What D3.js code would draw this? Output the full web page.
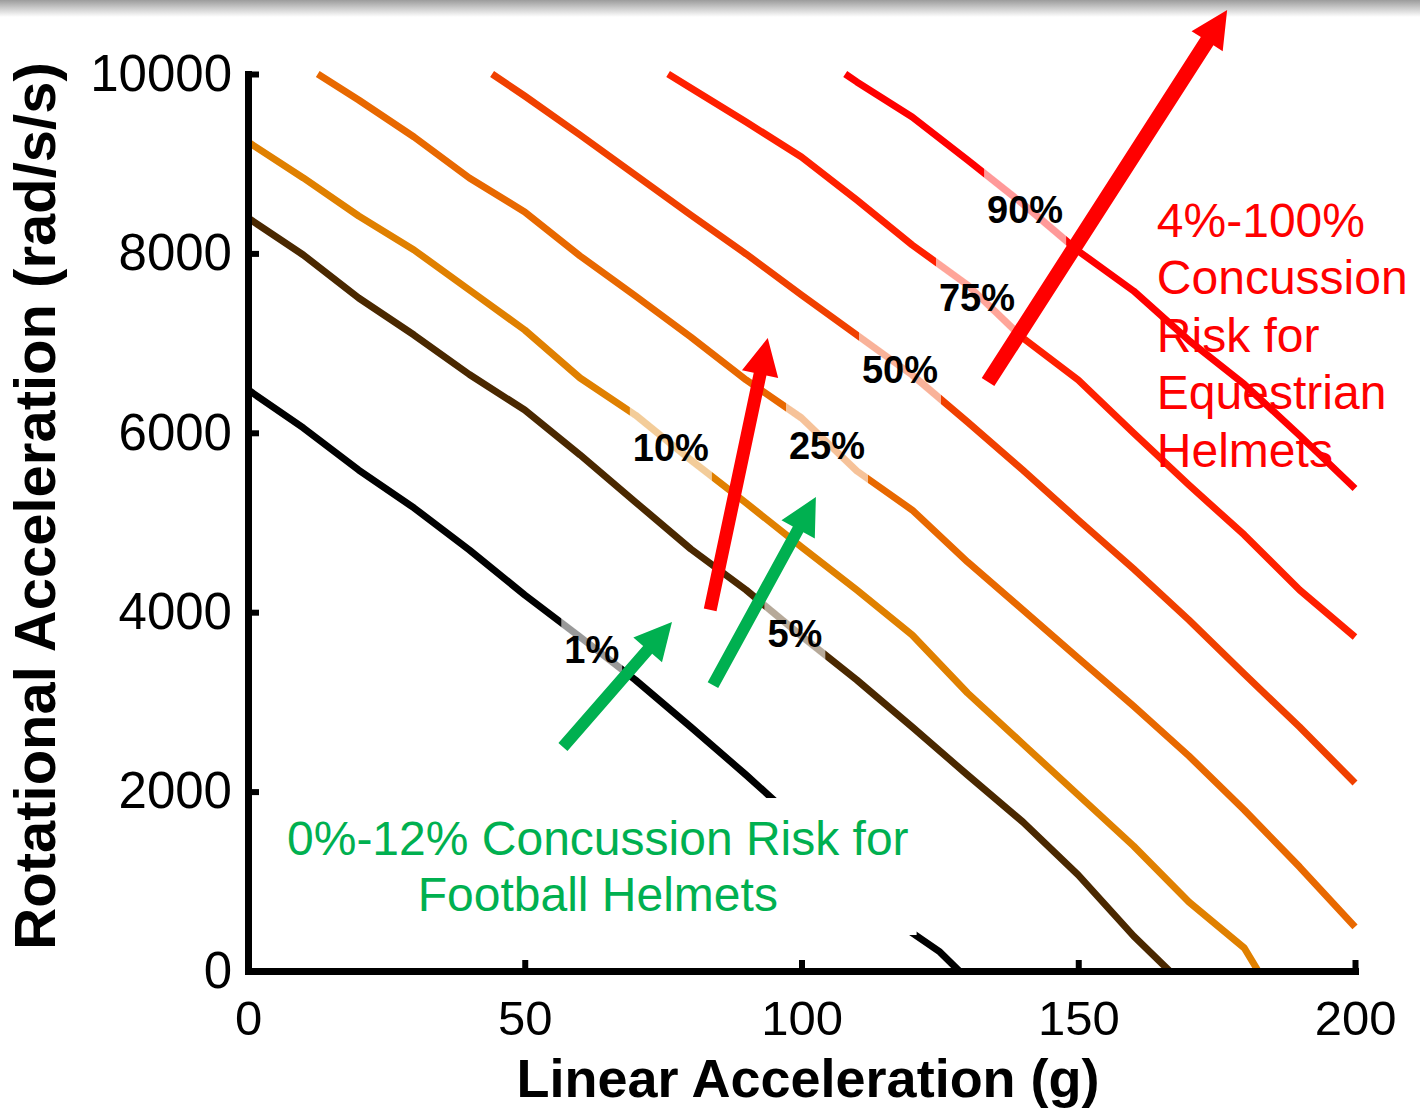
<!DOCTYPE html>
<html>
<head>
<meta charset="utf-8">
<script src="https://cdn.jsdelivr.net/npm/d3@7"></script>
<style>
  body { margin: 0; background: #fff; }
  svg { display: block; }
  text { font-family: "Liberation Sans", Arial, sans-serif; }
</style>
</head>
<body>
<svg id="chart" width="1420" height="1109"></svg>
<script>
// Iso-risk contours of concussion probability vs. linear and rotational acceleration
const xTicks = [0, 50, 100, 150, 200];
const yTicks = [0, 2000, 4000, 6000, 8000, 10000];
const riskLevels = ["1%", "5%", "10%", "25%", "50%", "75%", "90%"];
const levelColors = ["#000000", "#4a2800", "#e08000", "#e86800", "#f04000", "#ff2000", "#ff0000"];

// [linear acceleration (g), rotational acceleration (rad/s/s)]
const contour1 = [[0,6480],[10,6054],[20,5585],[30,5162],[40,4693],[50,4192],[60,3724],[70,3244],[80,2720],[90,2185],[95,1906],[100,1617],[110,1014],[120,424],[125,212],[128.5,0]];
const contour5 = [[0,8395],[10,7982],[20,7503],[30,7090],[40,6650],[50,6254],[60,5753],[70,5228],[80,4705],[90,4247],[100,3735],[110,3244],[120,2720],[130,2185],[140,1661],[150,1070],[160,390],[166.5,0]];
const contour10 = [[0,9242],[10,8841],[20,8417],[30,8038],[40,7592],[50,7146],[60,6611],[70,6198],[80,5697],[90,5217],[100,4727],[110,4247],[120,3746],[130,3099],[140,2531],[150,1962],[160,1394],[170,769],[180,256],[182.5,0]];
const contour25 = [[12.6,10000],[20,9710],[30,9298],[40,8841],[50,8462],[60,7971],[70,7525],[80,7068],[90,6589],[100,6165],[110,5574],[120,5139],[130,4560],[140,4025],[150,3489],[160,2954],[170,2397],[180,1795],[190,1159],[200,491]];
const contour50 = [[44.1,10000],[50,9755],[60,9320],[70,8874],[80,8428],[90,7993],[100,7536],[110,7090],[120,6644],[130,6120],[140,5585],[150,5028],[160,4482],[170,3913],[180,3311],[190,2720],[200,2096]];
const contour75 = [[75.9,10000],[80,9844],[90,9465],[100,9075],[110,8595],[120,8094],[130,7648],[140,7057],[150,6589],[160,5998],[170,5418],[180,4861],[190,4247],[200,3724]];
const contour90 = [[107.9,10000],[110,9911],[120,9521],[130,9041],[140,8551],[150,8027],[160,7581],[170,7030],[180,6540],[190,5970],[200,5380]];

// linear acceleration at which each contour carries its label
const labelAt = [62.1, 98.8, 76.4, 104.6, 117.8, 131.7, 140.4];

// annotation arrows: [tail, tip] in data units
const redArrows = [[[133.7, 6566], [176.9, 10713]], [[83.5, 4025], [93.9, 7057]]];
const greenArrows = [[[56.9, 2497], [76.6, 3891]], [[84.0, 3188], [102.6, 5284]]];

const footballNote = ["0%-12% Concussion Risk for", "Football Helmets"];
const footballNoteAt = [63.2, 1293];
const equestrianNote = ["4%-100%", "Concussion", "Risk for", "Equestrian", "Helmets"];
const equestrianNoteAt = [164.2, 8183];

const contours = [contour1, contour5, contour10, contour25, contour50, contour75, contour90];

const svg = d3.select("#chart");
const x = d3.scaleLinear([0, 200], [248, 1355]);
const y = d3.scaleLinear([0, 10000], [971, 74]);

// soft grey shade along the top edge
const defs = svg.append("defs");
const shade = defs.append("linearGradient").attr("id", "topShade")
  .attr("x1", 0).attr("y1", 0).attr("x2", 0).attr("y2", 1);
shade.append("stop").attr("offset", 0).attr("stop-color", "#9c9c9c");
shade.append("stop").attr("offset", 1).attr("stop-color", "#ffffff");
svg.append("rect").attr("x", 0).attr("y", 0).attr("width", 1420).attr("height", 17)
  .attr("fill", "url(#topShade)");

const line = d3.line().x(d => x(d[0])).y(d => y(d[1]));

// contour lines
const lineG = svg.append("g");
contours.forEach((c, i) => {
  lineG.append("path").attr("d", line(c))
    .attr("fill", "none").attr("stroke", levelColors[i])
    .attr("stroke-width", 7).attr("stroke-linejoin", "round");
});

// value at a given linear acceleration along a contour
function along(c, xv) {
  for (let k = 0; k < c.length - 1; k++) {
    const a = c[k], b = c[k + 1];
    if (xv >= a[0] && xv <= b[0]) {
      const t = (xv - a[0]) / (b[0] - a[0]);
      return a[1] + t * (b[1] - a[1]);
    }
  }
  return c[c.length - 1][1];
}

// contour labels with the line washed out beneath them
const labelG = svg.append("g");
contours.forEach((c, i) => {
  const cx = x(labelAt[i]);
  const cy = y(along(c, labelAt[i]));
  const t = labelG.append("text").attr("x", cx).attr("y", cy + 17)
    .attr("text-anchor", "middle").attr("font-size", 38).attr("font-weight", "bold")
    .attr("fill", "#000").text(riskLevels[i]);
  const w = t.node().getComputedTextLength() + 6;
  const clipId = "lblClip" + i;
  defs.append("clipPath").attr("id", clipId).append("rect")
    .attr("x", cx - w / 2).attr("y", 0).attr("width", w).attr("height", 1109);
  labelG.insert("path", "text").attr("d", line(c))
    .attr("fill", "none").attr("stroke", "#fff").attr("stroke-opacity", 0.6)
    .attr("stroke-width", 8).attr("clip-path", `url(#${clipId})`);
});

// axes
const yAxis = svg.append("g").attr("transform", `translate(${x(0)},0)`)
  .call(d3.axisLeft(y).tickValues(yTicks).tickFormat(d3.format("d"))
    .tickSizeInner(-11).tickSizeOuter(0).tickPadding(16));
const xAxis = svg.append("g").attr("transform", `translate(0,${y(0)})`)
  .call(d3.axisBottom(x).tickValues(xTicks).tickFormat(d3.format("d"))
    .tickSizeInner(-11).tickSizeOuter(0).tickPadding(29));
[yAxis, xAxis].forEach(g => {
  g.attr("font-family", null).attr("font-size", null);
  g.select(".domain").attr("stroke", "#000").attr("stroke-width", 7).attr("stroke-linecap", "square");
  g.selectAll(".tick line").attr("stroke", "#000").attr("stroke-width", 6);
  g.selectAll(".tick text").attr("font-size", 49).attr("fill", "#000");
});
yAxis.selectAll(".tick text").attr("font-size", 51);

// axis titles
svg.append("text").attr("x", 808).attr("y", 1097).attr("text-anchor", "middle")
  .attr("font-size", 54).attr("font-weight", "bold").attr("fill", "#000")
  .text("Linear Acceleration (g)");
svg.append("text").attr("transform", "translate(55,506) rotate(-90)").attr("text-anchor", "middle")
  .attr("font-size", 58).attr("font-weight", "bold").attr("fill", "#000")
  .text("Rotational Acceleration (rad/s/s)");

// football helmet note on a white panel
const footG = svg.append("g");
const footPanel = footG.append("rect").attr("fill", "#fff");
const footText = footG.append("text").attr("text-anchor", "middle")
  .attr("font-size", 48).attr("fill", "#00b050");
footballNote.forEach((s, k) => {
  footText.append("tspan").attr("x", x(footballNoteAt[0]))
    .attr("y", y(footballNoteAt[1]) + k * 56).text(s);
});
const fb = footText.node().getBBox();
footPanel.attr("x", fb.x - 8).attr("y", fb.y - 14).attr("width", fb.width + 16).attr("height", fb.height + 28);

// equestrian helmet note
const eqText = svg.append("text").attr("font-size", 48).attr("fill", "#ff0000");
equestrianNote.forEach((s, k) => {
  eqText.append("tspan").attr("x", x(equestrianNoteAt[0]))
    .attr("y", y(equestrianNoteAt[1]) + k * 57.5).text(s);
});

// block arrows
function arrowPath(tail, tip, shaftW, headLen, headW) {
  const x0 = x(tail[0]), y0 = y(tail[1]), x1 = x(tip[0]), y1 = y(tip[1]);
  const L = Math.hypot(x1 - x0, y1 - y0);
  const ux = (x1 - x0) / L, uy = (y1 - y0) / L;
  const nx = -uy, ny = ux;
  const bx = x1 - ux * headLen, by = y1 - uy * headLen;
  const p = [
    [x0 + nx * shaftW / 2, y0 + ny * shaftW / 2],
    [bx + nx * shaftW / 2, by + ny * shaftW / 2],
    [bx + nx * headW / 2, by + ny * headW / 2],
    [x1, y1],
    [bx - nx * headW / 2, by - ny * headW / 2],
    [bx - nx * shaftW / 2, by - ny * shaftW / 2],
    [x0 - nx * shaftW / 2, y0 - ny * shaftW / 2]
  ];
  return "M" + p.map(q => q.join(",")).join("L") + "Z";
}
const arrowG = svg.append("g");
redArrows.forEach((a, k) => {
  arrowG.append("path").attr("d", arrowPath(a[0], a[1], k === 0 ? 15 : 13, 37, 37)).attr("fill", "#ff0000");
});
greenArrows.forEach(a => {
  arrowG.append("path").attr("d", arrowPath(a[0], a[1], 12, 37, 38)).attr("fill", "#00b050");
});
</script>
</body>
</html>
